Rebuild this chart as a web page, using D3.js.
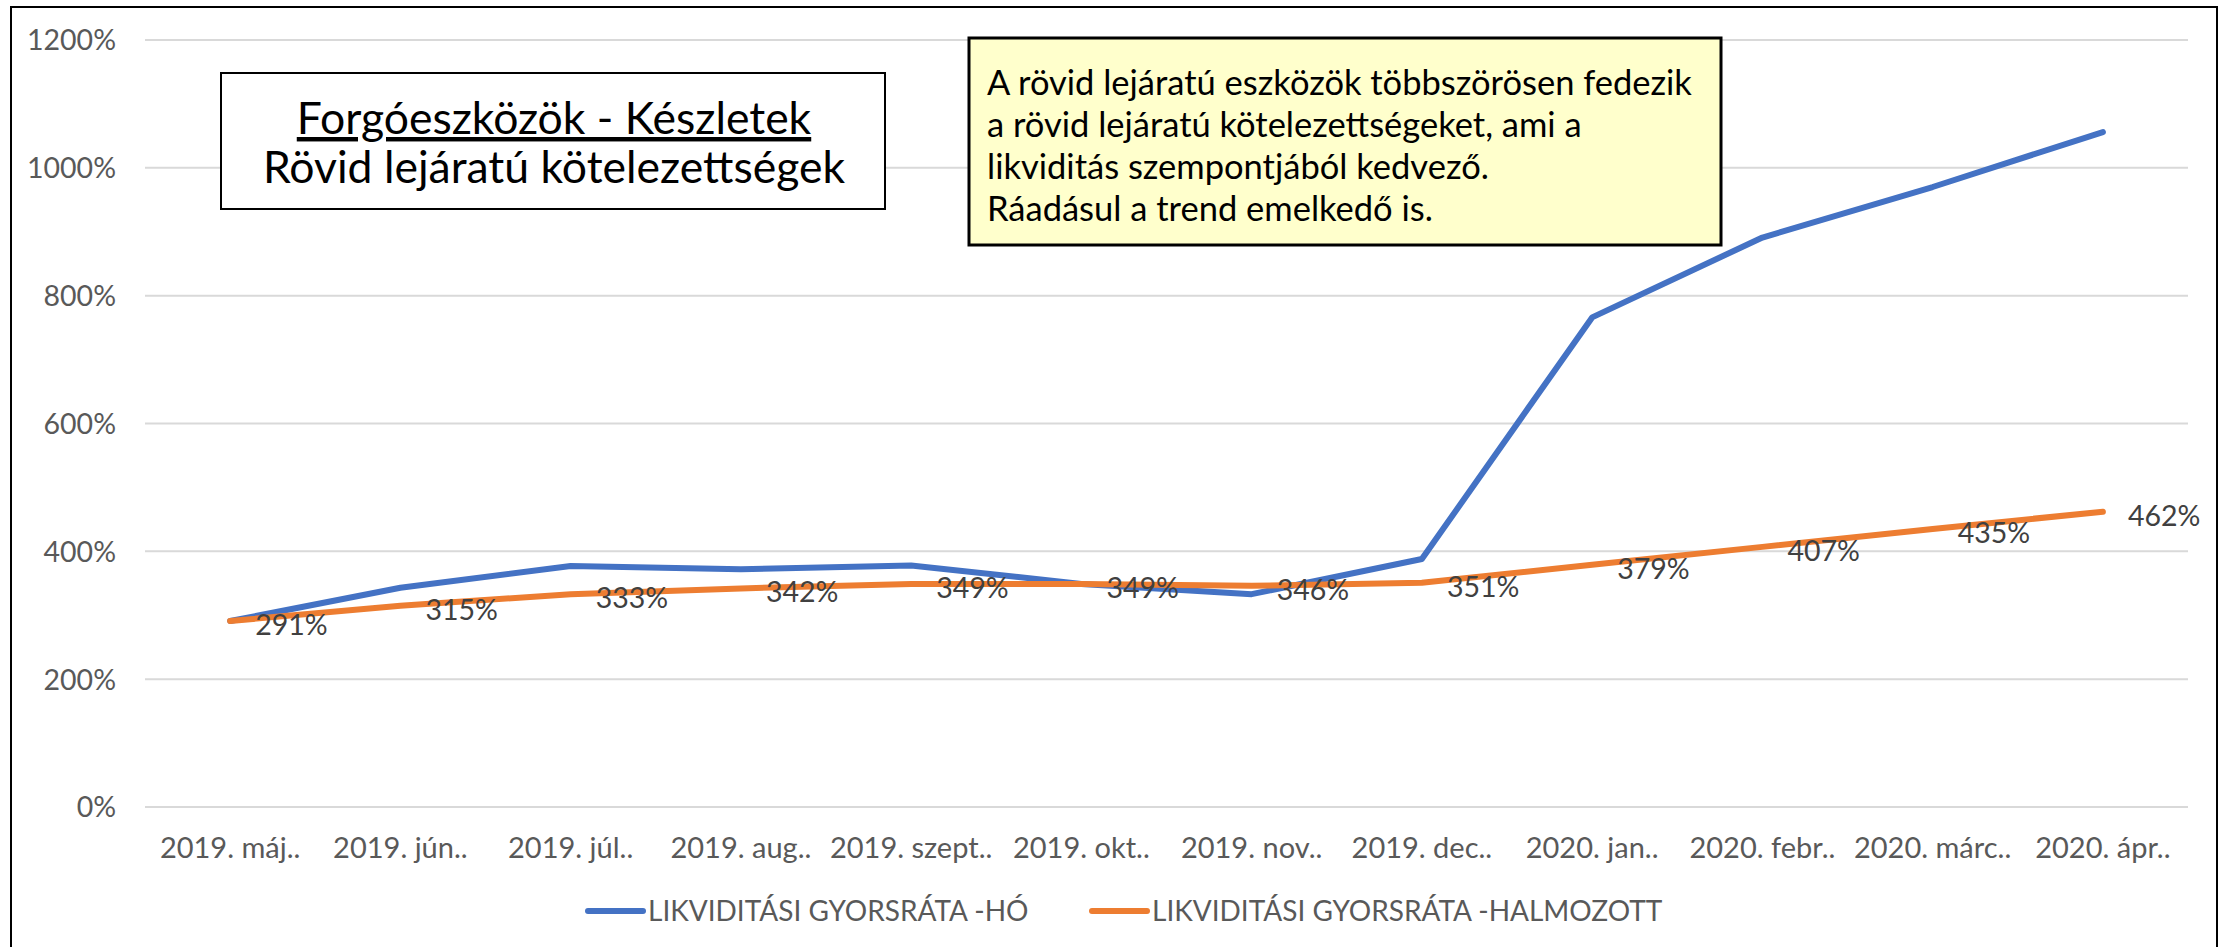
<!DOCTYPE html>
<html>
<head>
<meta charset="utf-8">
<script src="https://cdn.jsdelivr.net/npm/d3@7"></script>
<style>
  html, body { margin: 0; padding: 0; background: #fff; }
  svg { display: block; }
  text { font-family: Lato, "Open Sans", sans-serif; }
</style>
</head>
<body>
<svg id="chart" width="2224" height="947"></svg>
<script>
// ---- data ----
const categories = ["2019. máj..", "2019. jún..", "2019. júl..", "2019. aug..", "2019. szept..", "2019. okt..",
                    "2019. nov..", "2019. dec..", "2020. jan..", "2020. febr..", "2020. márc..", "2020. ápr.."];
const monthlyRatio = [2.91, 3.43, 3.77, 3.72, 3.78, 3.49, 3.33, 3.88, 7.66, 8.91, 9.70, 10.56];
const cumulativeRatio = [2.91, 3.15, 3.33, 3.42, 3.49, 3.49, 3.46, 3.51, 3.79, 4.07, 4.35, 4.62];
const yTicks = [0, 2, 4, 6, 8, 10, 12];
const yTickLabels = ["0%", "200%", "400%", "600%", "800%", "1000%", "1200%"];
const seriesNames = ["LIKVIDITÁSI GYORSRÁTA -HÓ", "LIKVIDITÁSI GYORSRÁTA -HALMOZOTT"];
const seriesColors = ["#4472C4", "#ED7D31"];
const titleLines = ["Forgóeszközök - Készletek", "Rövid lejáratú kötelezettségek"];
const noteLines = ["A rövid lejáratú eszközök többszörösen fedezik",
                   "a rövid lejáratú kötelezettségeket, ami a",
                   "likviditás szempontjából kedvező.",
                   "Ráadásul a trend emelkedő is."];

const svg = d3.select("#chart");

// outer chart border
svg.append("rect").attr("x", 11).attr("y", 7).attr("width", 2206).attr("height", 960)
  .attr("fill", "#fff").attr("stroke", "#000").attr("stroke-width", 2);

const x = d3.scaleBand().domain(categories).range([145, 2188]);
const y = d3.scaleLinear().domain([0, 12]).range([807, 40]);
const cx = d => x(d) + x.bandwidth() / 2;

// grid
svg.append("g").selectAll("line").data(yTicks).join("line")
  .attr("x1", 145).attr("x2", 2188)
  .attr("y1", d => y(d)).attr("y2", d => y(d))
  .attr("stroke", "#d9d9d9").attr("stroke-width", 2);

// y axis labels
const yAxis = d3.axisLeft(y).tickValues(yTicks).tickFormat((d, i) => yTickLabels[i]).tickSize(0).tickPadding(0);
const gy = svg.append("g").attr("transform", "translate(116,0)").call(yAxis);
gy.select(".domain").remove();
gy.selectAll("text").attr("font-size", 28.5).attr("fill", "#595959")
  .attr("font-family", "Lato, sans-serif").attr("dy", "0.35em");

// x axis labels
const xAxis = d3.axisBottom(x).tickSize(0).tickPadding(0);
const gx = svg.append("g").attr("transform", "translate(0,848)").call(xAxis);
gx.select(".domain").remove();
gx.selectAll("text").attr("font-size", 29).attr("fill", "#595959")
  .attr("font-family", "Lato, sans-serif").attr("dy", "0.35em");

// lines
const line = d3.line().x((d, i) => cx(categories[i])).y(d => y(d));
[monthlyRatio, cumulativeRatio].forEach((s, k) => {
  svg.append("path").datum(s).attr("d", line)
    .attr("fill", "none").attr("stroke", seriesColors[k])
    .attr("stroke-width", 6).attr("stroke-linejoin", "round").attr("stroke-linecap", "round");
});

// data labels for cumulative
svg.append("g").selectAll("text").data(cumulativeRatio).join("text")
  .attr("x", (d, i) => cx(categories[i]) + 25)
  .attr("y", d => y(d) + 4)
  .attr("dy", "0.35em")
  .attr("font-size", 28.5).attr("fill", "#404040")
  .text(d => Math.round(d * 100) + "%");

// title box
const tb = svg.append("g");
tb.append("rect").attr("x", 221).attr("y", 73).attr("width", 664).attr("height", 136)
  .attr("fill", "#fff").attr("stroke", "#000").attr("stroke-width", 2);
tb.append("text").attr("x", 554).attr("y", 134).attr("text-anchor", "middle")
  .attr("font-size", 44.5).attr("fill", "#000").style("text-decoration", "underline")
  .text(titleLines[0]);
tb.append("text").attr("x", 554).attr("y", 183).attr("text-anchor", "middle")
  .attr("font-size", 44.5).attr("fill", "#000")
  .text(titleLines[1]);

// note box
const nb = svg.append("g");
nb.append("rect").attr("x", 969).attr("y", 38).attr("width", 752).attr("height", 207)
  .attr("fill", "#FFFFCC").attr("stroke", "#000").attr("stroke-width", 3);
nb.selectAll("text").data(noteLines).join("text")
  .attr("x", 987).attr("y", (d, i) => 95 + i * 42)
  .attr("font-size", 34.5).attr("fill", "#000")
  .text(d => d);

// legend
const lg = svg.append("g");
const legendX = [588, 1092];
seriesNames.forEach((n, k) => {
  lg.append("line").attr("x1", legendX[k]).attr("x2", legendX[k] + 55)
    .attr("y1", 911).attr("y2", 911)
    .attr("stroke", seriesColors[k]).attr("stroke-width", 6).attr("stroke-linecap", "round");
  lg.append("text").attr("x", legendX[k] + 60).attr("y", 911).attr("dy", "0.35em")
    .attr("font-size", 28).attr("fill", "#595959").text(n);
});
</script>
</body>
</html>
